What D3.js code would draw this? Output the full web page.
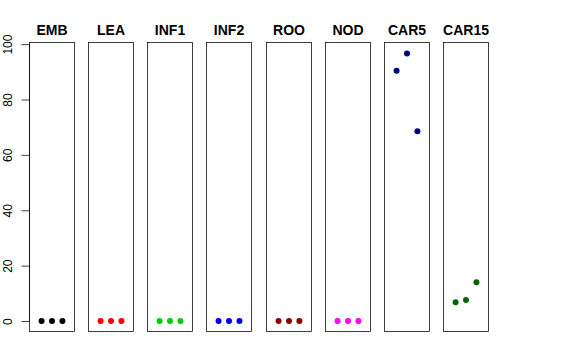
<!DOCTYPE html>
<html>
<head>
<meta charset="utf-8">
<script src="https://cdn.jsdelivr.net/npm/d3@7"></script>
<style>
  body { margin: 0; background: #fff; }
  text { font-family: "Liberation Sans", Arial, sans-serif; }
</style>
</head>
<body>
<div id="chart"></div>
<script>
var svgWidth = 576;
var svgHeight = 360;

// tissues, one panel each
var tissues = ["EMB", "LEA", "INF1", "INF2", "ROO", "NOD", "CAR5", "CAR15"];
var replicates = [1, 2, 3];
var values = [
  [0, 0, 0],
  [0, 0, 0],
  [0, 0, 0],
  [0, 0, 0],
  [0, 0, 0],
  [0, 0, 0],
  [90.4, 96.6, 68.5],
  [6.8, 7.6, 14.0]
];
var colors = ["#000000", "#ff0000", "#00cd00", "#0000ff", "#8b0000", "#ff00ff", "#000080", "#006400"];
var yTicks = [0, 20, 40, 60, 80, 100];

var panelW = 45;
var plotTop = 42.5, plotBottom = 331.5;

var svg = d3.select("#chart")
  .append("svg")
  .attr("width", svgWidth)
  .attr("height", svgHeight);

// shared scales
var yScale = d3.scaleLinear().domain([-3.78, 100.58]).range([plotBottom, plotTop]);
var panelScale = d3.scaleLinear().domain([0, tissues.length - 1]).range([29, 443]);
var xScale = d3.scaleLinear().domain([-0.16, 4.16]).range([0, panelW]);

// left axis
var leftAxis = d3.axisLeft(yScale).tickValues(yTicks).tickSize(8).tickPadding(0);
var axisG = svg.append("g")
  .attr("transform", "translate(29.5,0)")
  .call(leftAxis);
axisG.select(".domain")
  .attr("d", "M0," + yScale(0) + "V" + yScale(100))
  .attr("stroke", "#000").attr("stroke-width", 0.75);
axisG.selectAll(".tick line").attr("stroke", "#000").attr("stroke-width", 0.75);
axisG.selectAll(".tick text")
  .attr("font-size", "12px")
  .attr("font-family", "'Liberation Sans', Arial, sans-serif")
  .attr("fill", "#000")
  .attr("text-anchor", "middle")
  .attr("x", 0)
  .attr("y", 0)
  .attr("dy", null)
  .attr("transform", "translate(-17.5,0) rotate(-90)");

var panels = svg.selectAll("g.panel")
  .data(tissues)
  .enter()
  .append("g")
  .attr("class", "panel")
  .attr("transform", (d, i) => `translate(${Math.round(panelScale(i)) + 0.5},0)`);

panels.append("rect")
  .attr("x", 0)
  .attr("y", plotTop)
  .attr("width", panelW)
  .attr("height", plotBottom - plotTop)
  .attr("fill", "none")
  .attr("stroke", "#000")
  .attr("stroke-width", 0.75);

panels.append("text")
  .attr("x", panelW / 2)
  .attr("y", 35)
  .attr("text-anchor", "middle")
  .attr("font-weight", "bold")
  .attr("font-size", "14px")
  .text(d => d);

panels.each(function(d, i) {
  d3.select(this).selectAll("circle")
    .data(values[i])
    .enter()
    .append("circle")
    .attr("cx", (v, j) => xScale(replicates[j]))
    .attr("cy", v => yScale(v))
    .attr("r", 3)
    .attr("fill", colors[i]);
});
</script>
</body>
</html>
